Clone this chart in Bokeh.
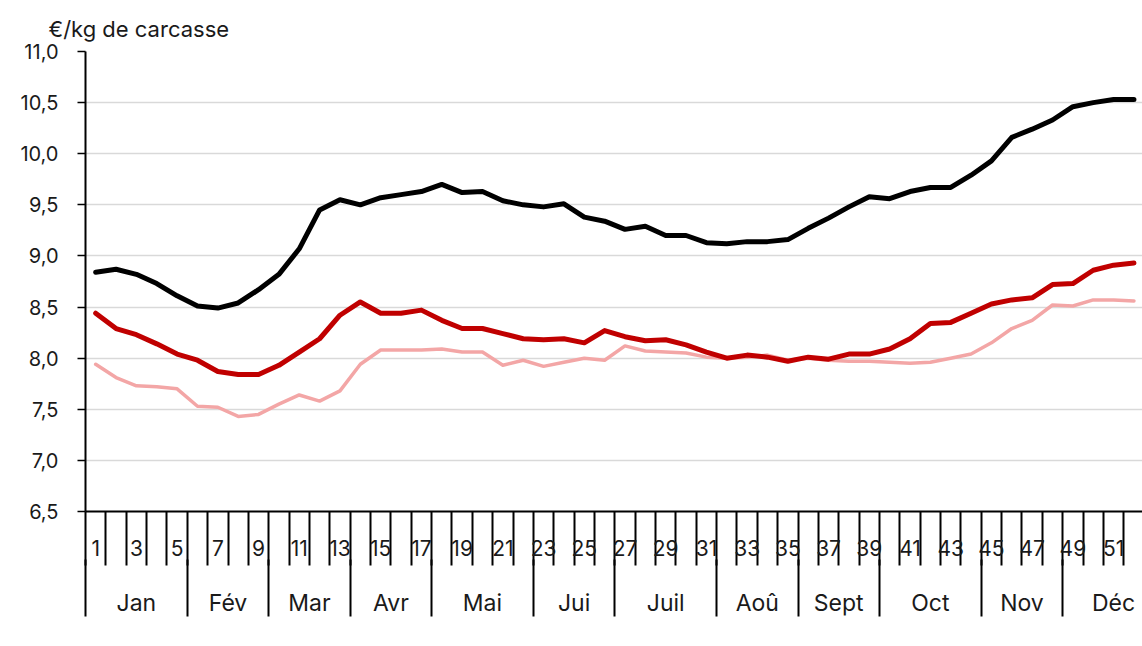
from bokeh.plotting import figure
from bokeh.models import (LinearAxis, FixedTicker, Range1d, Legend, LegendItem, Title)
from bokeh.embed import file_html
from bokeh.resources import INLINE

# ---- data ----
weeks = list(range(1, 53))
w2022 = [7.94, 7.81, 7.73, 7.72, 7.70, 7.53, 7.52, 7.43, 7.45, 7.55,
         7.64, 7.58, 7.68, 7.94, 8.08, 8.08, 8.08, 8.09, 8.06, 8.06,
         7.93, 7.98, 7.92, 7.96, 8.00, 7.98, 8.12, 8.07, 8.06, 8.05,
         8.01, 8.00, 8.01, 8.03, 7.98, 8.00, 7.98, 7.97, 7.97, 7.96,
         7.95, 7.96, 8.00, 8.04, 8.15, 8.29, 8.37, 8.52, 8.51, 8.57,
         8.57, 8.56]
w2023 = [8.44, 8.29, 8.23, 8.14, 8.04, 7.98, 7.87, 7.84, 7.84, 7.93,
         8.06, 8.19, 8.42, 8.55, 8.44, 8.44, 8.47, 8.37, 8.29, 8.29,
         8.24, 8.19, 8.18, 8.19, 8.15, 8.27, 8.21, 8.17, 8.18, 8.13,
         8.06, 8.00, 8.03, 8.01, 7.97, 8.01, 7.99, 8.04, 8.04, 8.09,
         8.19, 8.34, 8.35, 8.44, 8.53, 8.57, 8.59, 8.72, 8.73, 8.86,
         8.91, 8.93]
w2024 = [8.84, 8.87, 8.82, 8.73, 8.61, 8.51, 8.49, 8.54, 8.67, 8.82,
         9.07, 9.45, 9.55, 9.50, 9.57, 9.60, 9.63, 9.70, 9.62, 9.63,
         9.54, 9.50, 9.48, 9.51, 9.38, 9.34, 9.26, 9.29, 9.20, 9.20,
         9.13, 9.12, 9.14, 9.14, 9.16, 9.27, 9.37, 9.48, 9.58, 9.56,
         9.63, 9.67, 9.67, 9.79, 9.93, 10.16, 10.24, 10.33, 10.46, 10.50,
         10.53, 10.53]
series_names = ["2022", "2023", "2024"]
series_colors = ["#F3A6A6", "#C00000", "#000000"]
series_widths = [3.5, 5, 5]

months = ["Jan", "Fév", "Mar", "Avr", "Mai", "Jui", "Juil", "Aoû", "Sept", "Oct", "Nov", "Déc"]
month_week_counts = [5, 4, 4, 4, 5, 4, 5, 4, 4, 5, 4, 5]   # 53-week calendar
n_weeks_axis = sum(month_week_counts)
week_labels = [str(w) for w in range(1, n_weeks_axis + 1, 2)]

y_ticks = [6.5, 7.0, 7.5, 8.0, 8.5, 9.0, 9.5, 10.0, 10.5, 11.0]
y_tick_labels = ["6,5", "7,0", "7,5", "8,0", "8,5", "9,0", "9,5", "10,0", "10,5", "11,0"]
unit_label = "€/kg de carcasse"

FONT = "Inter"
TXT = "#1a1a1a"

# ---- derived axis positions ----
week_label_pos = [float(s) for s in week_labels]
week_bounds = [i + 0.5 for i in range(0, n_weeks_axis + 1)]
month_bounds = [0.5]
for c in month_week_counts:
    month_bounds.append(month_bounds[-1] + c)
month_centers = [(month_bounds[i] + month_bounds[i + 1]) / 2 for i in range(len(months))]

p = figure(frame_width=1057, frame_height=460, output_backend="svg", toolbar_location=None,
           x_axis_type=None, x_range=Range1d(0.5, 52.42), y_range=Range1d(6.5, 11.0),
           min_border_left=85, min_border_right=0, min_border_top=51, min_border_bottom=135)
p.outline_line_color = None
p.background_fill_color = "white"
p.border_fill_color = "white"

p.title = Title(text=unit_label, align="left", offset=-37, standoff=19,
                text_font=FONT, text_font_size="22px", text_font_style="normal",
                text_color=TXT)

# y axis
ya = p.yaxis[0]
ya.ticker = FixedTicker(ticks=y_ticks)
ya.major_label_overrides = {t: l for t, l in zip(y_ticks, y_tick_labels)}
ya.major_label_text_font = FONT
ya.major_label_text_font_size = "20px"
ya.major_label_text_color = TXT
ya.major_label_standoff = 19
ya.major_tick_out = 8
ya.major_tick_in = 0
ya.major_tick_line_color = "black"
ya.major_tick_line_width = 1.5
ya.minor_tick_line_color = None
ya.axis_line_color = "black"
ya.axis_line_width = 2

p.ygrid.ticker = FixedTicker(ticks=y_ticks)
p.ygrid.grid_line_color = "#D9D9D9"
p.ygrid.grid_line_width = 1.5

# week axis: week separators (minor ticks pointing outward via negative "in") + week labels
ax_w = LinearAxis(ticker=FixedTicker(ticks=week_label_pos, minor_ticks=week_bounds),
                  major_label_overrides={t: l for t, l in zip(week_label_pos, week_labels)},
                  major_tick_out=0, major_tick_in=0,
                  minor_tick_out=0, minor_tick_in=-54,
                  minor_tick_line_color="black", minor_tick_line_width=2,
                  axis_line_color="black", axis_line_width=2,
                  major_label_standoff=28,
                  major_label_text_font=FONT, major_label_text_font_size="21px",
                  major_label_text_color=TXT)
p.add_layout(ax_w, "below")

# month labels
ax_m = LinearAxis(ticker=FixedTicker(ticks=month_centers),
                  major_label_overrides={t: l for t, l in zip(month_centers, months)},
                  major_tick_out=0, major_tick_in=0, major_tick_line_color=None,
                  minor_tick_line_color=None, minor_tick_out=0, minor_tick_in=0,
                  axis_line_color=None,
                  major_label_standoff=30,
                  major_label_text_font=FONT, major_label_text_font_size="23px",
                  major_label_text_color=TXT)
p.add_layout(ax_m, "below")

# month separators (drawn upward through the month-label band) + small gap before legend
ax_ms = LinearAxis(ticker=FixedTicker(ticks=[], minor_ticks=month_bounds),
                   major_tick_out=6, major_tick_in=0, major_tick_line_color=None,
                   minor_tick_in=60, minor_tick_out=-3,
                   minor_tick_line_color="black", minor_tick_line_width=2,
                   axis_line_color=None, major_label_standoff=0)
p.add_layout(ax_ms, "below")

vals = [w2022, w2023, w2024]
items = []
for name, col, lw, v in zip(series_names, series_colors, series_widths, vals):
    r = p.line(weeks, v, line_color=col, line_width=lw, line_join="round", line_cap="round")
    items.append(LegendItem(label=name, renderers=[r]))

legend = Legend(items=items, orientation="horizontal", location="top_center",
                glyph_width=53, glyph_height=20, label_height=20, label_standoff=5,
                label_width=100, spacing=0,
                padding=0, margin=0, border_line_color=None, background_fill_alpha=0,
                label_text_font=FONT, label_text_font_size="23px", label_text_color=TXT)
p.add_layout(legend, "below")

open("out.html", "w").write(file_html(p, INLINE))
